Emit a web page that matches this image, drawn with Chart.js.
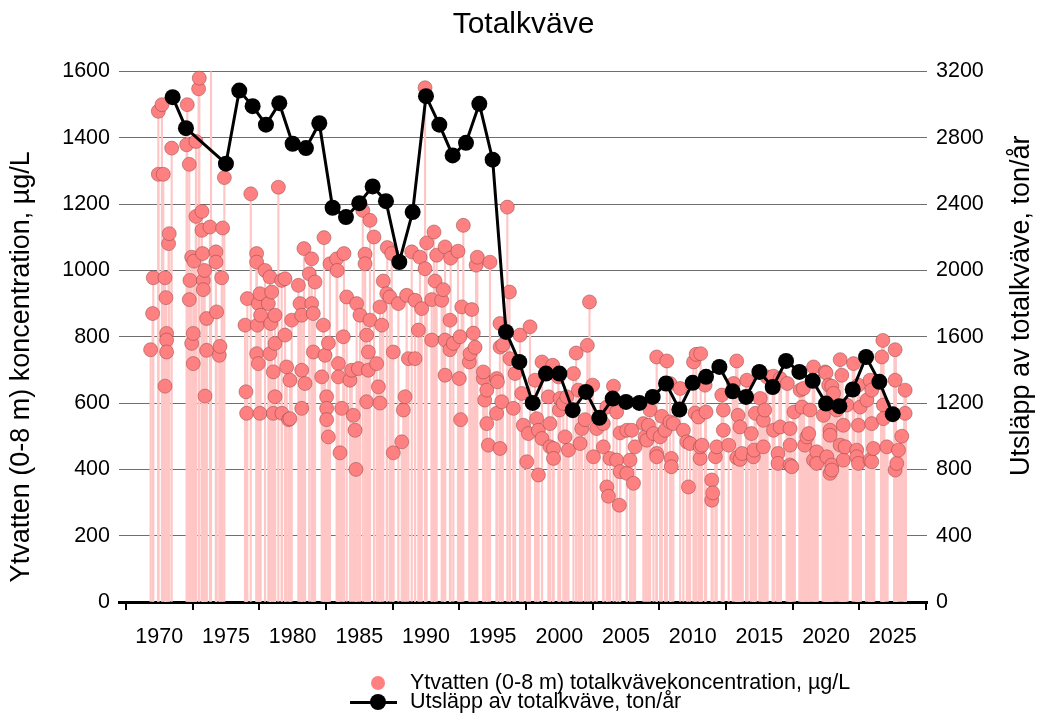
<!DOCTYPE html>
<html lang="sv">
<head>
<meta charset="utf-8">
<title>Totalkväve</title>
<script src="https://cdn.jsdelivr.net/npm/chart.js@4.4.1/dist/chart.umd.min.js"></script>
<style>
  html, body { margin: 0; padding: 0; background: #fff; }
  #wrap { position: relative; width: 1047px; height: 718px; overflow: hidden; }
  #chart { display: block; }
  .lg { position: absolute; font: 21.5px "Liberation Sans", Arial, sans-serif; line-height: 22px; color: #000; white-space: nowrap; }
  .dot { position: absolute; border-radius: 50%; }
  .bar { position: absolute; background: #000; }
</style>
</head>
<body>
<div id="wrap">
  <canvas id="chart" width="1047" height="718"></canvas>
  <span class="dot" style="left:371px;top:676px;width:14px;height:14px;background:#ff8080;"></span>
  <span class="lg" style="left:410px;top:671px;">Ytvatten (0-8 m) totalkvävekoncentration, µg/L</span>
  <span class="bar" style="left:350px;top:701px;width:47px;height:3px;"></span>
  <span class="dot" style="left:370px;top:694px;width:16px;height:16px;background:#000;"></span>
  <span class="lg" style="left:410px;top:690px;">Utsläpp av totalkväve, ton/år</span>
</div>
<script>
const FONT = '"Liberation Sans", Arial, sans-serif';

const xTickYears = [1970, 1975, 1980, 1985, 1990, 1995, 2000, 2005, 2010, 2015, 2020, 2025];
const concTicks = [0, 200, 400, 600, 800, 1000, 1200, 1400, 1600];
const tonTicks = [0, 400, 800, 1200, 1600, 2000, 2400, 2800, 3200];

// surface water samples (decimal year) and total nitrogen, µg/L
const sampleYear = [
  1969.35, 1969.5, 1969.55, 1969.93, 1969.93, 1970.2, 1970.3, 1970.43, 1970.43, 1970.5, 1970.55, 1970.55, 1970.55, 1970.7, 1970.75, 1970.93,
  1972.05, 1972.1, 1972.25, 1972.25, 1972.3, 1972.43, 1972.43, 1972.55, 1972.55, 1972.6, 1972.75, 1972.75, 1972.95, 1973.0, 1973.2, 1973.2, 1973.25, 1973.3, 1973.3, 1973.4, 1973.43, 1973.55, 1973.55, 1973.8, 1973.88, 1974.25, 1974.25, 1974.3, 1974.5, 1974.55, 1974.68, 1974.75, 1974.88,
  1976.43, 1976.5, 1976.55, 1976.6, 1976.86, 1977.3, 1977.3, 1977.3, 1977.35, 1977.43, 1977.43, 1977.55, 1977.55, 1977.6, 1977.93, 1978.18, 1978.3, 1978.3, 1978.36, 1978.43, 1978.55, 1978.55, 1978.68, 1978.68, 1978.68, 1978.93, 1979.18, 1979.2, 1979.43, 1979.43, 1979.55, 1979.7, 1979.8, 1979.8, 1979.93,
  1980.43, 1980.55, 1980.68, 1980.68, 1980.68, 1980.85, 1980.93, 1981.25, 1981.43, 1981.43, 1981.55, 1981.55, 1981.68, 1982.18, 1982.3, 1982.35, 1982.43, 1982.55, 1982.55, 1982.55, 1982.68, 1982.68, 1982.8,
  1983.3, 1983.35, 1983.43, 1983.43, 1983.55, 1983.68, 1983.8, 1983.85, 1984.05, 1984.3, 1984.43, 1984.55, 1984.68, 1984.75, 1984.8, 1984.93,
  1985.05, 1985.26, 1985.43, 1985.43, 1985.55, 1985.55, 1985.68, 1985.68, 1985.8, 1985.8, 1986.1, 1986.3, 1986.43, 1986.55, 1986.55, 1986.68, 1986.8,
  1987.06, 1987.1, 1987.3, 1987.43, 1987.55, 1987.55, 1987.93, 1988.18, 1988.3, 1988.43, 1988.55, 1988.68, 1988.93, 1989.18, 1989.18, 1989.43, 1989.55, 1989.68,
  1989.93, 1989.93, 1990.05, 1990.43, 1990.43, 1990.6, 1990.68, 1990.8, 1991.18, 1991.3, 1991.43, 1991.43, 1991.43, 1991.8, 1991.8, 1991.85, 1992.05, 1992.4, 1992.5, 1992.55, 1992.6, 1992.68, 1992.8,
  1993.25, 1993.3, 1993.43, 1993.55, 1993.68, 1993.76, 1993.85, 1994.3, 1994.3, 1994.4, 1994.56, 1994.56, 1994.68, 1994.8, 1995.3, 1995.3, 1995.36, 1995.55, 1995.55, 1995.55, 1995.68, 1995.76,
  1996.1, 1996.26, 1996.3, 1996.55, 1996.68, 1997.05, 1997.18, 1997.3, 1997.56, 1997.68, 1997.8, 1998.18, 1998.3, 1998.43, 1998.43, 1998.7, 1998.7, 1999.18, 1999.3, 1999.3, 1999.5, 1999.56, 1999.56, 1999.93,
  2000.0, 2000.06, 2000.3, 2000.43, 2000.56, 2000.68, 2001.06, 2001.26, 2001.43, 2001.56, 2001.68, 2001.93, 2002.1, 2002.26, 2002.5, 2002.56, 2002.8, 2003.3, 2003.3, 2003.56, 2003.56, 2003.68, 2003.8, 2004.06, 2004.3, 2004.3, 2004.5, 2004.56, 2004.56,
  2005.06, 2005.06, 2005.3, 2005.43, 2005.56, 2005.68, 2006.3, 2006.43, 2006.56, 2006.68, 2006.8, 2007.06, 2007.3, 2007.3, 2007.3, 2007.56, 2007.68, 2007.93, 2008.06, 2008.3, 2008.3, 2008.4, 2008.4, 2008.55, 2009.06, 2009.3, 2009.56, 2009.68, 2009.8,
  2010.06, 2010.18, 2010.26, 2010.43, 2010.56, 2010.56, 2010.6, 2010.7, 2010.93, 2011.0, 2011.43, 2011.43, 2011.5, 2011.7, 2011.8, 2012.18, 2012.3, 2012.3, 2012.7, 2013.06, 2013.3, 2013.3, 2013.4, 2013.55, 2013.55, 2013.7, 2014.06, 2014.4, 2014.55, 2014.6, 2014.7,
  2015.06, 2015.3, 2015.3, 2015.4, 2015.56, 2016.06, 2016.06, 2016.4, 2016.4, 2016.56, 2016.56, 2017.1, 2017.3, 2017.3, 2017.3, 2017.43, 2017.6, 2018.06, 2018.2, 2018.3, 2018.4, 2018.56, 2018.7, 2018.8, 2019.06, 2019.06, 2019.3, 2019.3, 2019.8, 2019.93,
  2020.0, 2020.06, 2020.2, 2020.3, 2020.3, 2020.3, 2020.43, 2020.43, 2020.43, 2020.56, 2020.8, 2021.06, 2021.06, 2021.18, 2021.3, 2021.3, 2021.43, 2021.56, 2022.06, 2022.3, 2022.3, 2022.43, 2022.43, 2022.43, 2022.56,
  2023.06, 2023.3, 2023.3, 2023.43, 2023.43, 2023.43, 2023.56, 2024.18, 2024.26, 2024.3, 2024.3, 2024.56, 2025.18, 2025.18, 2025.18, 2025.3, 2025.43, 2025.68, 2025.93, 2025.93,
];
const sampleConc = [
  761, 870, 978, 1480, 1290, 1500, 1290, 978, 651, 918, 810, 790, 754, 1081, 1111, 1369,
  1379, 1500, 1320, 912, 970, 1040, 780, 810, 719, 1028, 1389, 1163, 1548, 1580, 1178, 1121, 1051, 970, 942, 1000, 621, 855, 759, 1131, 1630, 1056, 1025, 875, 744, 771, 978, 1128, 1280,
  835, 634, 569, 915, 1231, 1051, 1025, 749, 835, 900, 719, 930, 569, 865, 1000, 900, 980, 749, 840, 935, 694, 569, 865, 780, 619, 1251, 970, 569, 975, 805, 709, 550, 669, 553, 850,
  955, 900, 865, 699, 584, 1066, 659, 990, 1035, 900, 870, 754, 965, 679, 835, 1099, 744, 619, 584, 550, 781, 498, 1020,
  1035, 1000, 719, 679, 450, 584, 800, 1051, 920, 669, 699, 563, 518, 400, 900, 704,
  865, 1181, 1049, 1020, 805, 604, 754, 699, 1151, 850, 1101, 719, 649, 890, 600, 835, 968,
  930, 1069, 920, 1051, 754, 450, 900, 483, 579, 619, 925, 734, 1056, 910, 734, 820, 1040, 885,
  1551, 1005, 1083, 912, 790, 1116, 968, 1046, 910, 942, 1071, 790, 684, 850, 761, 1037, 780, 1058, 674, 800, 550, 890, 1136,
  724, 749, 882, 811, 768, 1016, 1040, 674, 694, 609, 639, 538, 473, 1025, 569, 674, 664, 840, 463, 769, 604, 775,
  1191, 935, 734, 584, 689, 805, 629, 533, 423, 508, 830, 669, 553, 518, 383, 493, 724, 619, 538, 468, 714, 463, 433, 679,
  579, 614, 599, 498, 619, 458, 689, 751, 639, 478, 523, 550, 774, 905, 654, 438, 523, 468, 538, 588, 347, 319, 433, 651, 573, 428, 292, 510, 393,
  518, 388, 428, 518, 358, 468, 538, 498, 488, 533, 579, 508, 739, 448, 438, 498, 560, 518, 727, 659, 543, 433, 408, 538, 644, 518, 483, 347, 478,
  724, 570, 747, 558, 433, 468, 749, 473, 654, 573, 368, 307, 329, 438, 468, 624, 579, 518, 473, 659, 727, 435, 563, 528, 430, 448, 669, 508, 438, 458, 569,
  614, 548, 468, 579, 679, 681, 518, 448, 418, 528, 674, 659, 523, 473, 413, 408, 573, 639, 588, 644, 473, 498, 508, 579, 709, 428, 453, 418, 563, 694,
  691, 438, 654, 518, 503, 388, 651, 413, 398, 629, 579, 731, 473, 684, 533, 428, 468, 594, 719, 458, 438, 654, 533, 418, 588,
  609, 669, 428, 639, 538, 423, 463, 739, 789, 594, 553, 468, 761, 669, 398, 418, 458, 500, 639, 569,
];

// yearly emissions, ton/år
const emissionYears = [
  1971, 1972, 1975, 1976, 1977, 1978, 1979, 1980, 1981, 1982, 1983, 1984, 1985, 1986, 1987, 1988, 1989,
  1990, 1991, 1992, 1993, 1994, 1995, 1996, 1997, 1998, 1999, 2000, 2001, 2002, 2003, 2004, 2005, 2006, 2007,
  2008, 2009, 2010, 2011, 2012, 2013, 2014, 2015, 2016, 2017, 2018, 2019, 2020, 2021, 2022, 2023, 2024, 2025,
];
const emissionTons = [
  3045, 2858, 2644, 3085, 2991, 2879, 3009, 2764, 2738, 2888, 2378, 2322, 2406, 2507, 2418, 2051, 2352,
  3051, 2879, 2694, 2770, 3005, 2668, 1629, 1448, 1201, 1378, 1378, 1157, 1267, 1111, 1227, 1207, 1201, 1237,
  1318, 1161, 1322, 1358, 1418, 1271, 1237, 1388, 1297, 1454, 1388, 1334, 1197, 1181, 1282, 1478, 1328, 1133,
];

// monthly sampling from here on: the stems run together in the original
const DENSE_FROM = 2013;

const n = Math.min(sampleYear.length, sampleConc.length);
const samples = [];
for (let i = 0; i < n; i++) samples.push({ x: sampleYear[i], y: sampleConc[i] });
const emissions = emissionYears.map((x, i) => ({ x, y: emissionTons[i] }));

const leftTitle = "Ytvatten (0-8 m) koncentration, µg/L";
const rightTitle = "Utsläpp av totalkväve, ton/år";

// both axis titles read bottom-to-top, so they are drawn here instead of by the scales
const axisTitles = {
  id: "axisTitles",
  afterDraw(chart) {
    const { ctx, chartArea } = chart;
    const mid = (chartArea.top + chartArea.bottom) / 2;
    ctx.save();
    ctx.fillStyle = "#000";
    ctx.font = `27px ${FONT}`;
    ctx.textAlign = "center";
    ctx.textBaseline = "middle";
    [[22, mid + 30, leftTitle], [1022, mid - 31, rightTitle]].forEach(([x, y, t]) => {
      ctx.save();
      ctx.translate(x, y);
      ctx.rotate(-Math.PI / 2);
      ctx.fillText(t, 0, 0);
      ctx.restore();
    });
    ctx.restore();
  },
};

function fixTicks(values) {
  return (scale) => {
    scale.ticks = values.map((v) => ({ value: v }));
  };
}

function stems(data, thickness) {
  return {
    type: "bar",
    data,
    yAxisID: "y",
    backgroundColor: "#ffc6c6",
    borderWidth: 0,
    barThickness: thickness,
    order: 2,
  };
}

const plainNumber = (v) => String(v);

Chart.defaults.font.family = FONT;
Chart.defaults.color = "#000";

new Chart(document.getElementById("chart"), {
  type: "scatter",
  data: {
    datasets: [
      {
        type: "line",
        label: "Utsläpp av totalkväve, ton/år",
        data: emissions,
        yAxisID: "y1",
        borderColor: "#000",
        borderWidth: 3,
        backgroundColor: "#000",
        pointRadius: 8,
        pointBorderWidth: 0,
        tension: 0,
        clip: false,
        order: 0,
      },
      {
        type: "scatter",
        label: "Ytvatten (0-8 m) totalkvävekoncentration, µg/L",
        data: samples,
        yAxisID: "y",
        backgroundColor: "#ff8080",
        borderColor: "rgba(130,60,60,0.45)",
        borderWidth: 1,
        pointRadius: 7,
        clip: false,
        order: 1,
      },
      stems(samples.filter((p) => p.x < DENSE_FROM), 1.5),
      stems(samples.filter((p) => p.x >= DENSE_FROM), 3),
    ],
  },
  options: {
    responsive: false,
    animation: false,
    layout: { padding: 0 },
    datasets: { bar: { grouped: false } },
    plugins: {
      legend: { display: false },
      tooltip: { enabled: false },
      title: {
        display: true,
        text: "Totalkväve",
        color: "#000",
        font: { size: 30, weight: "normal" },
        padding: { top: 7, bottom: 28.5 },
      },
    },
    scales: {
      x: {
        type: "linear",
        min: 1966.98,
        max: 2027.57,
        offset: false,
        afterBuildTicks: fixTicks(xTickYears),
        afterFit: (s) => { s.height = 116; },
        grid: { drawOnChartArea: false, drawTicks: true, tickLength: 8, color: "#000", lineWidth: 2 },
        border: { display: true, color: "#000", width: 3 },
        ticks: { padding: 14, font: { size: 21.5 }, maxRotation: 0, autoSkip: false, callback: plainNumber },
      },
      y: {
        position: "left",
        min: 0,
        max: 1600,
        afterBuildTicks: fixTicks(concTicks),
        afterFit: (s) => { s.width = 119; },
        grid: {
          drawTicks: false,
          lineWidth: 1,
          color: (c) => (c.tick && c.tick.value === 0 ? "rgba(0,0,0,0)" : "#6e6e6e"),
        },
        border: { display: false },
        ticks: { padding: 9, font: { size: 21.5 }, callback: plainNumber },
      },
      y1: {
        position: "right",
        min: 0,
        max: 3200,
        afterBuildTicks: fixTicks(tonTicks),
        afterFit: (s) => { s.width = 120; },
        grid: { drawOnChartArea: false, drawTicks: false },
        border: { display: false },
        ticks: { padding: 9, font: { size: 21.5 }, callback: plainNumber },
      },
    },
  },
  plugins: [axisTitles],
});
</script>
</body>
</html>
